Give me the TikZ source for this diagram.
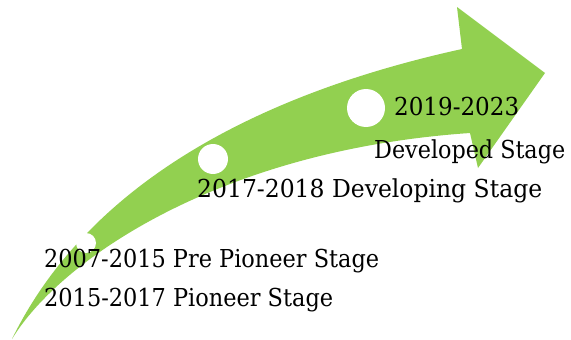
\documentclass[tikz,border=0pt]{standalone}
\usepackage{fontspec}
\usepackage{graphicx}
\setmainfont{DejaVu Serif}
\definecolor{arrowgreen}{HTML}{92D050}
\newcommand{\fitw}[2]{\resizebox{#1}{\height}{#2}}
\begin{document}
\begin{tikzpicture}[x=1pt,y=-1pt,
  dot/.style={circle,fill=white,draw=none,inner sep=0pt},
  lbl/.style={anchor=base west,inner sep=0pt,font=\fontsize{24.7}{29}\selectfont}]
\useasboundingbox (0,0) rectangle (571,340);
% arrow body
\fill[arrowgreen] (12,339) .. controls (80,200) and (230,100) .. (462,49)
  -- (457,7) -- (545,73) -- (478,168) -- (470,133)
  .. controls (220,150) and (60,260) .. (12,339) -- cycle;
% circles
\node[dot,minimum size=20pt] (c1) at (86,243) {};
\node[dot,minimum size=30pt] (c2) at (213,159) {};
\node[dot,minimum size=38pt] (c3) at (366,108) {};
% labels
\node[lbl] (t1) at (44,267) {\fitw{335pt}{2007-2015 Pre Pioneer Stage}};
\node[lbl] (t2) at (44,306) {\fitw{289pt}{2015-2017 Pioneer Stage}};
\node[lbl] (t3) at (197,197) {\fitw{345pt}{2017-2018 Developing Stage}};
\node[lbl] (t4) at (394,115) {\fitw{125pt}{2019-2023}};
\node[lbl] (t5) at (374,158) {\fitw{191pt}{Developed Stage}};
\end{tikzpicture}
\end{document}
